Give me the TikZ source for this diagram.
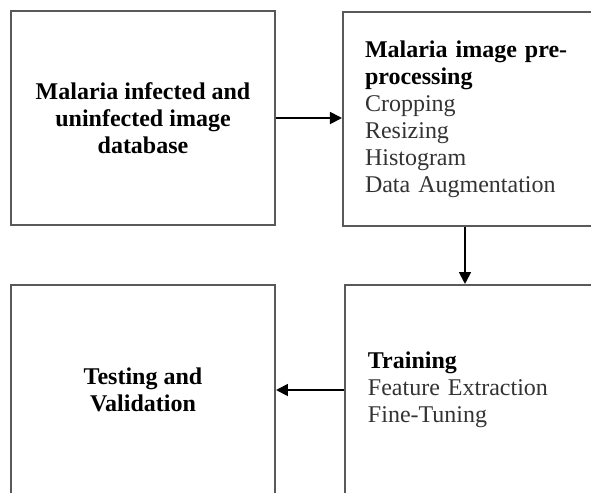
\documentclass[tikz,border=0pt]{standalone}
\usepackage{fontspec}
\setmainfont{Liberation Serif}
\usetikzlibrary{arrows.meta}

\tikzset{
    block/.style={draw=black!65, line width=1pt, inner sep=0pt,
        font=\fontsize{12}{13.5}\selectfont},
    midblock/.style={block, align=center, minimum width=132pt},
    listblock/.style={block, align=left, inner xsep=11pt, text width=112pt},
    flow/.style={draw=black, line width=0.9pt, -{Triangle[length=6pt,width=6pt]}},
}
\newcommand{\itemtxt}[1]{{\color{black!80}#1}}

\begin{document}
\begin{tikzpicture}[x=0.5pt, y=-0.5pt]
    \clip (0,0) rectangle (591,493);
    \fill [white] (0,0) rectangle (591,493);

    % upper row
    \node [midblock, minimum height=107pt, anchor=north west] (db) at (10,10)
        {\textbf{Malaria infected and}\\\textbf{uninfected image}\\\textbf{database}};
    \node [listblock, minimum height=107pt, anchor=north west] (pre) at (342,11)
        {\textbf{Malaria image pre-}\\\textbf{processing}\\\itemtxt{Cropping}\\\itemtxt{Resizing}\\\itemtxt{Histogram}\\\itemtxt{Data Augmentation}};

    % lower row
    \node [listblock, minimum height=105pt, inner xsep=11.5pt, anchor=north west] (train) at (344,284)
        {\textbf{Training}\\\itemtxt{Feature Extraction}\\\itemtxt{Fine-Tuning}};
    \node [midblock, minimum height=105pt, anchor=north west] (test) at (10,284)
        {\textbf{Testing and}\\\textbf{Validation}};

    \draw [flow] (db.east) -- (db.east -| pre.west);
    \draw [flow] ([xshift=-6pt]pre.south) -- ([xshift=-6pt]pre.south |- train.north);
    \draw [flow] (train.west) -- (test.east);
\end{tikzpicture}
\end{document}
